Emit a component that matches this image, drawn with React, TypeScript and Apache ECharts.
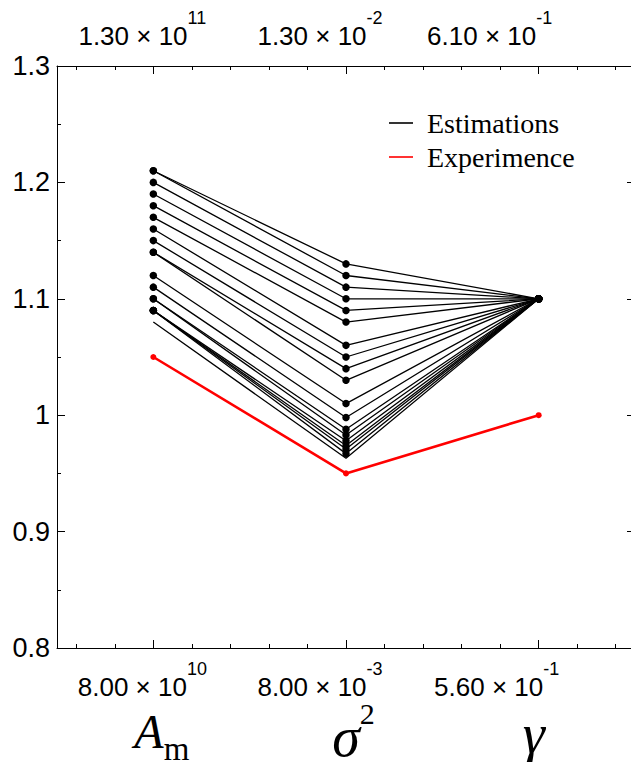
import React, { useEffect, useRef } from 'react';
import * as echarts from 'echarts';

const categories = ['Am', 'sigma2', 'gamma'];
const topTickMain = ['1.30 × 10', '1.30 × 10', '6.10 × 10'];
const topTickExp = ['11', '-2', '-1'];
const bottomTickMain = ['8.00 × 10', '8.00 × 10', '5.60 × 10'];
const bottomTickExp = ['10', '-3', '-1'];
const minorTickSlots = ['s0', 's1', 's2', 's3', 's4', 's5', 's6', 's7', 's8', 's9', 's10', 's11', 's12', 's13', 's14'];

const estimationAm = [1.21, 1.21, 1.20, 1.19, 1.18, 1.17, 1.16, 1.15, 1.14, 1.14, 1.12, 1.11, 1.10, 1.10, 1.09, 1.09, 1.09, 1.09, 1.08];
const estimationSigma = [1.13, 1.12, 1.11, 1.10, 1.09, 1.08, 1.06, 1.05, 1.04, 1.03, 1.01, 0.998, 0.988, 0.983, 0.978, 0.974, 0.971, 0.967, 0.963];
const estimationGamma = [1.10, 1.10, 1.10, 1.10, 1.10, 1.10, 1.10, 1.10, 1.10, 1.10, 1.10, 1.10, 1.10, 1.10, 1.10, 1.10, 1.10, 1.10, 1.10];
const experimence = [1.05, 0.95, 1.0];

const SANS = "'Liberation Sans', Arial, sans-serif";
const SERIF = "'Liberation Serif', 'Times New Roman', serif";

export default function App() {
  const ref = useRef<HTMLDivElement>(null);
  useEffect(() => {
    if (!ref.current) return;
    const chart = echarts.init(ref.current, null, { renderer: 'svg' });
    const topShift = [11, 26, 49];
    const bottomShift = [11, 26, 42];
    const numRich = (shifts: number[]) => {
      const r: any = {
        m: { fontFamily: SANS, fontSize: 26, lineHeight: 26, color: '#000', padding: [14, 0, 0, 0], verticalAlign: 'top' },
      };
      shifts.forEach((s, i) => {
        r['e' + i] = { fontFamily: SANS, fontSize: 18, lineHeight: 18, color: '#000', verticalAlign: 'top', padding: [0, 2 * s, 0, 0] };
      });
      return r;
    };

    const estSeries = estimationAm.map((v, i) => ({
      name: 'Estimations',
      type: 'line',
      xAxisIndex: 0,
      yAxisIndex: 0,
      data: [v, estimationSigma[i], estimationGamma[i]],
      symbol: 'circle',
      symbolSize: 7.5,
      showSymbol: i !== estimationAm.length - 1,
      lineStyle: { color: '#000', width: 1.3 },
      itemStyle: { color: '#000' },
      z: 2,
    }));

    const option: any = {
      animation: false,
      backgroundColor: '#fff',
      grid: { left: 57, top: 66, width: 578, height: 582, containLabel: false, outerBoundsMode: 'none' },
      legend: {
        orient: 'vertical',
        left: 384,
        top: 103,
        itemWidth: 24,
        itemHeight: 1.6,
        itemGap: 4,
        icon: 'rect',
        data: [
          { name: 'Estimations', itemStyle: { color: '#000' } },
          { name: 'Experimence', itemStyle: { color: '#ff0000' } },
        ],
        textStyle: { fontFamily: SERIF, fontSize: 28, lineHeight: 30, color: '#000', padding: [0, 0, 0, 9] },
      },
      xAxis: [
        {
          type: 'category', position: 'bottom', data: categories, boundaryGap: true,
          axisLine: { show: true, lineStyle: { color: '#000', width: 1 } },
          axisTick: { show: true, inside: true, alignWithLabel: true, length: 8, interval: 0, lineStyle: { color: '#000' } },
          axisLabel: {
            interval: 0, margin: 12,
            formatter: (_v: string, i: number) => `{m|${bottomTickMain[i]}}{e${i}|${bottomTickExp[i]}}`,
            rich: numRich(bottomShift),
          },
          splitLine: { show: false },
        },
        {
          type: 'category', position: 'top', data: categories, boundaryGap: true,
          axisLine: { show: true, lineStyle: { color: '#000', width: 1 } },
          axisTick: { show: true, inside: true, alignWithLabel: true, length: 8, interval: 0, lineStyle: { color: '#000' } },
          axisLabel: {
            interval: 0, margin: 31,
            formatter: (_v: string, i: number) => `{m|${topTickMain[i]}}{e${i}|${topTickExp[i]}}`,
            rich: numRich(topShift),
          },
          splitLine: { show: false },
        },
        {
          type: 'category', position: 'bottom', data: categories, boundaryGap: true,
          axisLine: { show: false }, axisTick: { show: false },
          axisLabel: {
            interval: 0, margin: 47,
            formatter: (_v: string, i: number) => (i === 0 ? '{a|A}{am|m}' : i === 1 ? '{sg|σ}{s2|2}' : '{g|γ}'),
            rich: {
              a: { fontFamily: SERIF, fontStyle: 'italic', fontSize: 48, lineHeight: 48, color: '#000', verticalAlign: 'top', padding: [12, 0, 0, 17] },
              am: { fontFamily: SERIF, fontSize: 33, lineHeight: 24, color: '#000', verticalAlign: 'top', padding: [37, 0, 0, 0] },
              sg: { fontFamily: SERIF, fontStyle: 'italic', fontSize: 56, lineHeight: 40, color: '#000', verticalAlign: 'top', padding: [14, 0, 0, 15] },
              s2: { fontFamily: SERIF, fontSize: 30, lineHeight: 20, color: '#000', verticalAlign: 'top', padding: [3, 0, 0, 0] },
              g: { fontFamily: SERIF, fontStyle: 'italic', fontSize: 56, lineHeight: 40, color: '#000', verticalAlign: 'top', padding: [11, 10, 0, 0] },
            },
          },
          splitLine: { show: false },
        },
        {
          type: 'category', position: 'bottom', data: minorTickSlots, boundaryGap: true,
          axisLine: { show: false },
          axisTick: { show: true, inside: true, alignWithLabel: true, length: 4, interval: 0, lineStyle: { color: '#000' } },
          axisLabel: { show: false, interval: 0 },
          splitLine: { show: false },
        },
        {
          type: 'category', position: 'top', data: minorTickSlots, boundaryGap: true,
          axisLine: { show: false },
          axisTick: { show: true, inside: true, alignWithLabel: true, length: 4, interval: 0, lineStyle: { color: '#000' } },
          axisLabel: { show: false, interval: 0 },
          splitLine: { show: false },
        },
      ],
      yAxis: [
        {
          type: 'value', position: 'left', min: 0.8, max: 1.3, interval: 0.1,
          axisLine: { show: true, lineStyle: { color: '#000', width: 1 } },
          axisTick: { show: true, inside: true, length: 8, lineStyle: { color: '#000' } },
          minorTick: { show: true, splitNumber: 2, length: 4, lineStyle: { color: '#000' } },
          axisLabel: { fontFamily: SANS, fontSize: 27, color: '#000', margin: 7 },
          splitLine: { show: false },
        },
        {
          type: 'value', position: 'right', min: 0.8, max: 1.3, interval: 0.1,
          axisLine: { show: true, lineStyle: { color: '#000', width: 1 } },
          axisTick: { show: true, inside: true, length: 8, lineStyle: { color: '#000' } },
          minorTick: { show: true, splitNumber: 2, length: 4, lineStyle: { color: '#000' } },
          axisLabel: { show: false },
          splitLine: { show: false },
        },
      ],
      series: [
        ...estSeries,
        {
          name: 'Experimence',
          type: 'line',
          xAxisIndex: 0,
          yAxisIndex: 0,
          data: experimence,
          symbol: 'circle',
          symbolSize: 6,
          lineStyle: { color: '#ff0000', width: 2.6 },
          itemStyle: { color: '#ff0000' },
          z: 3,
        },
      ],
    };
    chart.setOption(option);
    return () => chart.dispose();
  }, []);
  return (
    <div
      ref={ref}
      style={{ position: 'absolute', left: 0, top: 0, width: 631, height: 762, background: '#fff' }}
    />
  );
}
